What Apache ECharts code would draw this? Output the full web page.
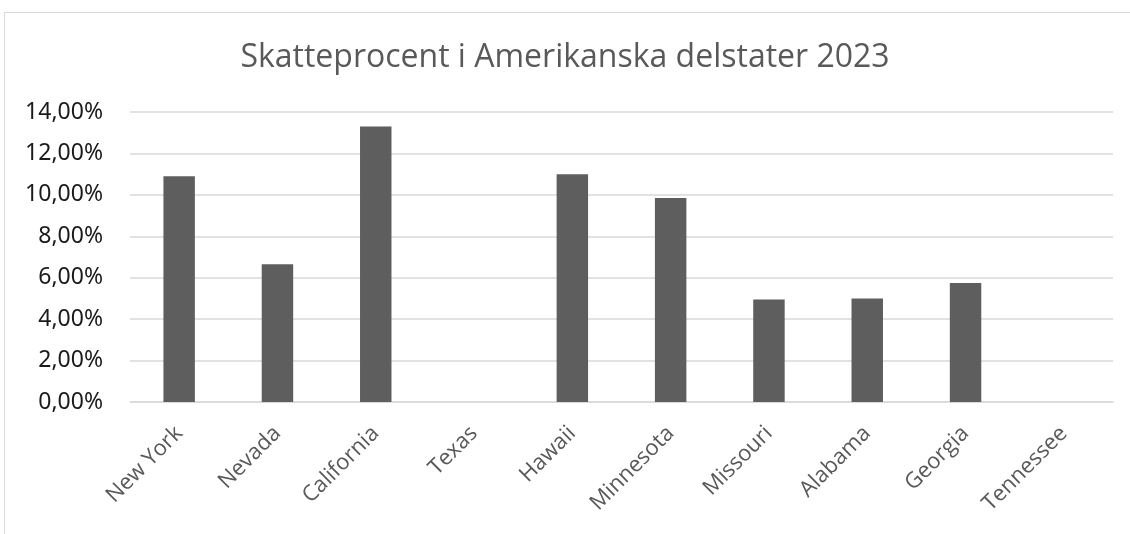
<!DOCTYPE html>
<html>
<head>
<meta charset="utf-8">
<script src="https://cdn.jsdelivr.net/npm/echarts@6/dist/echarts.min.js"></script>
<style>
  html, body { margin: 0; padding: 0; background: #fff; overflow: hidden; }
  .frame {
    position: absolute; left: 4px; top: 12px;
    width: 1200px; height: 600px;
    border: 1px solid #d9d9d9;
  }
  #chart { position: absolute; left: 0; top: 0; width: 1130px; height: 534px; }
</style>
</head>
<body>
<div class="frame"></div>
<div id="chart"></div>
<script>
// skattesats per delstat, i procent
const states = ['New York', 'Nevada', 'California', 'Texas', 'Hawaii', 'Minnesota', 'Missouri', 'Alabama', 'Georgia', 'Tennessee']
const taxRates = [10.9, 6.65, 13.3, 0, 11.0, 9.85, 4.95, 5.0, 5.75, 0]
const yTicks = [0, 2, 4, 6, 8, 10, 12, 14]

const chart = echarts.init(document.getElementById('chart'))

function fmtPct(v) {
  return v.toFixed(2).replace('.', ',') + '%'
}

chart.setOption({
  animation: false,
  title: {
    text: 'Skatteprocent i Amerikanska delstater 2023',
    left: 'center',
    top: 37,
    textStyle: { fontFamily: 'Open Sans', fontSize: 32, fontWeight: 'normal', color: '#595959' }
  },
  grid: { left: 130, right: 17, top: 112, bottom: 132 },
  xAxis: {
    type: 'category',
    data: states,
    axisLine: { lineStyle: { color: '#d9d9d9', width: 1.5 } },
    axisTick: { show: false },
    axisLabel: {
      rotate: 45,
      margin: 28,
      interval: 0,
      color: '#595959',
      fontFamily: 'Open Sans',
      fontSize: 22
    }
  },
  yAxis: {
    type: 'value',
    min: yTicks[0],
    max: yTicks[yTicks.length - 1],
    interval: 2,
    axisLine: { show: false },
    axisTick: { show: false },
    splitLine: { lineStyle: { color: '#d9d9d9', width: 1.5 } },
    axisLabel: {
      margin: 27,
      color: '#1a1a1a',
      fontFamily: 'Noto Sans',
      fontSize: 23,
      formatter: fmtPct
    }
  },
  series: [{
    type: 'bar',
    data: taxRates,
    barWidth: '32%',
    itemStyle: { color: '#5e5e5e' }
  }]
})
</script>
</body>
</html>
